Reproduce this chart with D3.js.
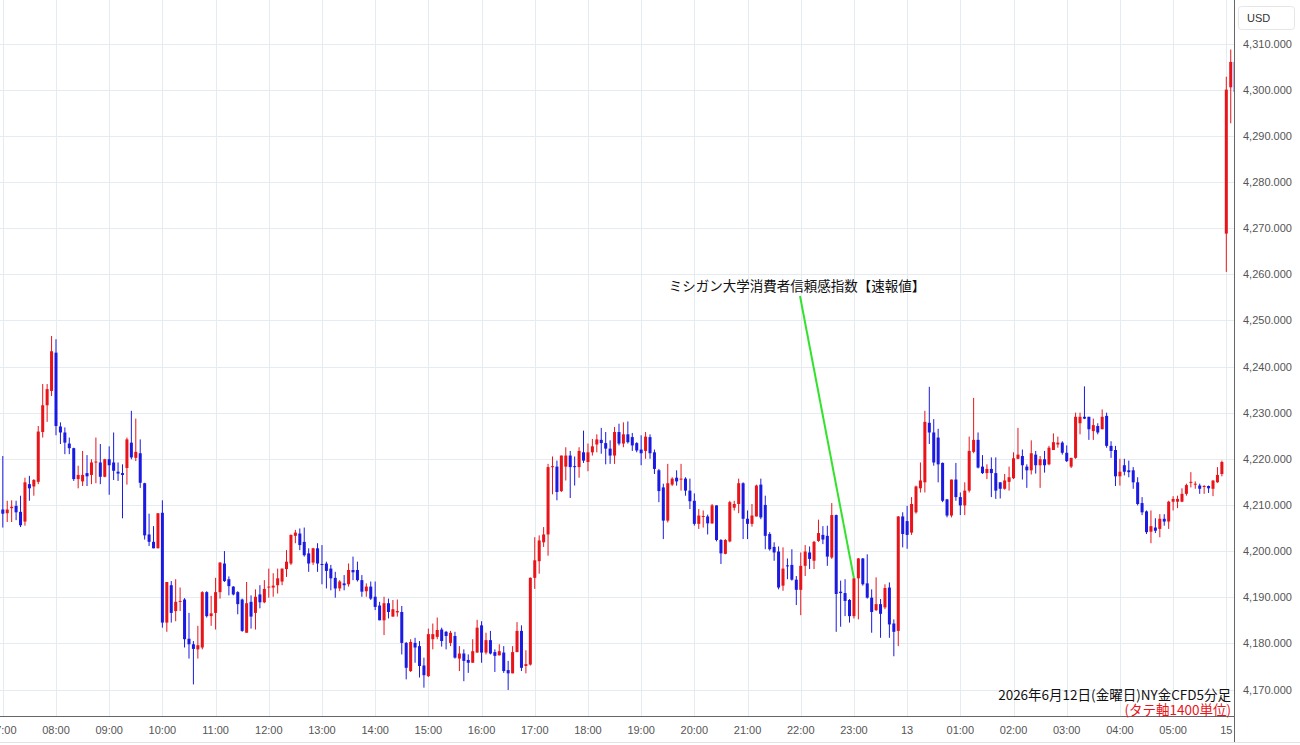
<!DOCTYPE html>
<html>
<head>
<meta charset="utf-8">
<script src="https://cdn.jsdelivr.net/npm/d3@7"></script>
<style>
  body { margin: 0; background: #fff; }
  svg { display: block; }
</style>
</head>
<body>
<svg id="chart"></svg>
<script>

  // ---------------------------//
  //            DATA            //
  // ---------------------------//

// NY gold CFD, 5-minute bars (12th 07:00 -> 13th 05:55, then 15th 07:00..07:10)
var opens = [
4209.0,4208.2,4209.3,4209.8,4208.5,4206.4,4214.5,4214.0,4215.0,4225.8,4231.6,4234.7,4243.0,4227.0,4225.7,4223.3,4222.3,4215.6,4215.1,4216.9,
4216.5,4219.2,4219.2,4216.1,4219.9,4219.2,4217.2,4216.9,4218.0,4223.5,4220.2,4221.2,4214.7,4203.6,4202.0,4200.6,4208.3,4184.5,4192.6,4187.0,
4189.0,4189.5,4181.0,4179.8,4178.7,4179.1,4191.1,4185.9,4186.6,4191.1,4197.3,4193.9,4192.3,4191.1,4189.5,4182.3,4189.0,4186.6,4190.6,4188.9,
4192.1,4192.1,4192.6,4193.4,4196.1,4197.3,4203.3,4203.8,4202.0,4199.5,4197.5,4200.6,4197.2,4197.3,4196.2,4194.2,4191.9,4193.0,4192.8,4195.9,
4195.9,4193.7,4191.3,4192.3,4190.1,4188.2,4185.0,4188.7,4185.8,4186.7,4186.8,4180.1,4174.0,4180.1,4179.4,4175.2,4172.9,4180.9,4181.4,4183.0,
4182.5,4180.1,4181.6,4176.7,4177.8,4176.4,4175.8,4178.0,4183.9,4178.0,4180.7,4178.1,4177.4,4178.0,4174.2,4173.5,4178.1,4182.7,4175.1,4175.4,
4194.2,4197.8,4201.9,4203.6,4218.2,4218.3,4213.0,4218.3,4220.7,4218.4,4218.2,4221.4,4219.3,4221.4,4223.1,4224.1,4223.4,4222.2,4220.7,4225.8,
4223.3,4225.3,4224.7,4223.4,4222.0,4221.7,4224.7,4221.4,4217.5,4213.8,4206.6,4214.4,4215.9,4215.6,4215.7,4213.1,4210.9,4205.9,4207.4,4207.5,
4206.0,4209.9,4202.4,4199.4,4202.1,4209.4,4210.2,4214.7,4207.0,4205.9,4207.5,4214.4,4210.0,4203.7,4200.9,4199.9,4192.5,4196.9,4197.0,4193.8,
4191.6,4196.8,4199.7,4197.9,4202.2,4203.5,4203.3,4198.6,4207.8,4191.2,4190.9,4189.4,4185.9,4194.1,4198.4,4193.0,4189.9,4187.2,4188.5,4187.8,
4192.1,4184.3,4182.7,4207.5,4206.5,4204.0,4208.4,4213.6,4214.9,4227.8,4225.7,4224.6,4219.1,4211.2,4207.7,4215.5,4211.7,4209.9,4213.1,4221.5,
4224.1,4218.3,4216.9,4217.8,4216.9,4214.9,4213.5,4215.0,4215.8,4220.0,4220.6,4218.3,4217.5,4220.9,4218.6,4219.9,4218.8,4221.9,4223.1,4223.5,
4221.3,4218.3,4220.2,4227.7,4229.1,4229.1,4226.0,4227.1,4226.4,4229.3,4222.8,4221.9,4216.2,4218.6,4217.5,4217.5,4214.9,4210.4,4208.6,4204.2,
4205.1,4204.8,4207.0,4206.4,4210.7,4210.7,4210.7,4212.4,4214.9,4214.5,4214.2,4214.0,4214.1,4213.5,4214.9,4216.7,4268.8,4300.5,4306.0
];
var highs = [
4220.6,4210.9,4211.0,4210.9,4212.0,4215.9,4216.3,4215.6,4227.1,4236.2,4236.2,4246.6,4245.9,4227.9,4226.8,4224.6,4222.4,4218.5,4221.7,4220.8,
4219.9,4224.6,4223.2,4220.0,4222.7,4225.7,4219.2,4218.8,4224.6,4230.4,4228.7,4224.2,4214.8,4208.1,4205.4,4208.2,4211.0,4193.3,4193.5,4193.9,
4192.1,4189.8,4186.6,4180.5,4183.8,4191.3,4191.3,4190.3,4194.2,4197.6,4200.0,4194.5,4192.4,4191.3,4189.7,4193.3,4190.4,4191.7,4192.6,4193.7,
4196.2,4195.2,4196.2,4196.2,4200.2,4203.6,4204.6,4204.9,4205.1,4200.6,4200.7,4201.7,4201.3,4197.7,4197.0,4195.5,4193.7,4194.8,4197.3,4198.8,
4197.7,4194.8,4193.0,4193.4,4193.4,4189.0,4190.1,4189.7,4189.4,4189.5,4188.1,4180.3,4180.9,4181.2,4180.5,4176.9,4183.2,4184.3,4185.6,4183.4,
4182.7,4182.7,4182.5,4179.4,4178.7,4177.6,4180.9,4185.1,4184.8,4182.3,4182.7,4178.7,4179.8,4179.4,4176.2,4179.4,4184.6,4183.9,4178.5,4194.3,
4203.0,4203.4,4205.2,4218.9,4220.5,4219.6,4220.7,4222.5,4221.7,4220.5,4222.5,4226.1,4223.3,4224.3,4225.3,4226.7,4225.8,4224.0,4226.9,4227.6,
4227.9,4228.1,4225.6,4223.6,4225.1,4225.8,4225.3,4222.0,4217.8,4214.6,4218.9,4216.0,4217.5,4218.9,4216.0,4215.7,4212.5,4209.1,4208.8,4207.9,
4210.2,4209.9,4202.6,4202.6,4210.9,4210.9,4215.7,4214.9,4208.8,4210.2,4214.4,4215.7,4212.0,4204.1,4201.9,4201.0,4200.8,4198.4,4200.4,4194.6,
4199.7,4201.3,4201.0,4202.2,4206.8,4205.4,4205.5,4210.4,4207.9,4193.6,4193.9,4189.6,4194.2,4198.5,4198.5,4199.3,4191.7,4194.3,4189.6,4192.8,
4193.2,4185.2,4207.6,4208.4,4209.8,4211.7,4214.2,4219.2,4230.4,4235.6,4228.6,4226.5,4219.2,4211.3,4215.5,4219.1,4212.7,4214.9,4224.8,4233.2,
4225.7,4220.8,4218.8,4220.3,4220.3,4214.9,4216.7,4218.3,4221.4,4226.7,4222.0,4218.8,4224.0,4221.7,4220.6,4221.7,4222.8,4225.5,4224.8,4223.8,
4222.9,4220.2,4230.0,4230.0,4235.7,4229.1,4228.7,4227.7,4230.7,4230.0,4223.8,4222.8,4220.0,4220.0,4219.6,4218.2,4216.0,4211.7,4208.8,4208.8,
4207.1,4208.0,4208.0,4210.9,4211.9,4212.0,4213.6,4214.6,4217.1,4215.1,4214.6,4214.3,4214.2,4215.3,4218.2,4219.6,4302.8,4308.7,4306.5
];
var lows = [
4205.1,4206.3,4206.3,4206.7,4205.2,4205.5,4210.9,4212.0,4214.5,4224.6,4228.0,4233.6,4225.1,4223.2,4221.0,4221.0,4215.2,4213.6,4214.1,4214.1,
4214.5,4214.7,4214.5,4216.0,4212.2,4215.4,4215.2,4207.1,4214.4,4219.9,4219.5,4213.7,4202.5,4201.1,4200.6,4200.6,4183.4,4182.5,4184.5,4184.8,
4187.0,4179.1,4176.7,4171.1,4176.7,4178.7,4185.6,4183.8,4183.0,4189.7,4193.3,4190.4,4190.4,4186.3,4182.5,4182.3,4183.2,4183.0,4187.6,4188.7,
4189.9,4190.1,4190.8,4192.6,4194.4,4197.0,4201.7,4200.2,4198.8,4195.5,4197.0,4195.5,4192.8,4191.9,4191.5,4189.9,4191.3,4191.5,4192.3,4193.7,
4193.4,4190.1,4190.1,4189.4,4187.2,4185.0,4181.8,4185.4,4185.8,4185.8,4177.6,4172.2,4173.8,4175.8,4172.6,4170.4,4172.7,4178.7,4180.9,4179.3,
4178.7,4179.4,4176.7,4174.0,4171.8,4173.6,4175.8,4178.0,4175.8,4177.6,4177.6,4173.8,4177.4,4173.6,4169.9,4173.5,4178.1,4174.0,4173.5,4175.2,
4191.8,4195.1,4200.9,4199.0,4212.3,4211.0,4212.8,4215.3,4211.5,4214.2,4215.9,4219.1,4217.3,4220.7,4221.4,4221.1,4218.8,4218.9,4218.9,4222.9,
4222.5,4223.3,4221.7,4221.4,4218.6,4220.0,4220.0,4216.7,4210.6,4202.6,4206.2,4214.1,4214.2,4213.1,4212.0,4209.1,4205.5,4204.8,4205.1,4203.6,
4205.9,4202.1,4197.2,4199.3,4201.9,4208.8,4208.2,4202.6,4202.6,4205.3,4207.5,4206.9,4200.4,4200.1,4197.9,4191.7,4191.4,4193.9,4193.6,4188.3,
4186.1,4194.6,4196.1,4196.1,4202.0,4201.5,4196.8,4198.3,4182.5,4183.6,4185.9,4184.5,4185.4,4185.2,4192.5,4189.7,4182.3,4187.0,4181.2,4187.4,
4181.2,4177.2,4179.4,4200.8,4200.5,4203.5,4208.1,4212.7,4212.7,4223.2,4218.5,4214.9,4210.6,4207.3,4207.3,4210.9,4207.8,4207.8,4212.7,4221.2,
4217.9,4216.7,4215.6,4211.7,4211.3,4211.4,4213.3,4213.1,4215.6,4219.9,4215.5,4213.7,4216.6,4216.8,4213.7,4217.0,4218.6,4221.9,4222.4,4220.9,
4219.3,4218.0,4220.0,4225.3,4228.6,4224.1,4224.1,4225.3,4226.4,4222.4,4220.2,4214.1,4214.2,4216.4,4216.0,4213.5,4209.9,4207.8,4203.7,4201.7,
4203.9,4203.0,4205.5,4204.8,4208.8,4209.3,4210.6,4212.0,4213.8,4213.5,4212.4,4212.4,4212.6,4211.9,4214.8,4216.2,4260.5,4292.7,4298.5
];
var closes = [
4208.1,4209.0,4209.6,4208.4,4205.6,4214.9,4213.6,4215.4,4225.9,4231.6,4235.1,4243.3,4227.1,4225.7,4223.5,4222.3,4215.6,4216.5,4216.5,4216.2,
4219.2,4219.4,4216.1,4219.9,4218.6,4217.4,4216.8,4216.5,4224.2,4220.3,4221.5,4214.8,4203.4,4202.0,4200.6,4208.2,4184.5,4193.3,4186.6,4189.0,
4189.2,4180.9,4179.8,4178.8,4179.6,4191.1,4185.9,4186.5,4191.1,4197.5,4193.5,4192.4,4190.6,4188.5,4182.7,4188.7,4185.8,4190.1,4188.9,4191.8,
4192.3,4192.5,4194.1,4196.2,4197.7,4203.5,4204.0,4201.3,4199.1,4197.3,4200.6,4197.3,4197.0,4195.7,4194.1,4191.9,4193.4,4192.6,4195.9,4195.4,
4193.7,4191.2,4192.3,4189.7,4187.9,4185.0,4188.7,4186.8,4187.4,4187.0,4180.1,4174.7,4180.3,4179.1,4175.1,4173.1,4182.0,4182.0,4182.9,4180.5,
4181.6,4182.3,4176.9,4177.8,4176.2,4175.8,4178.3,4183.4,4178.0,4180.7,4177.8,4177.3,4178.3,4174.0,4173.5,4178.1,4182.7,4174.7,4175.5,4194.2,
4198.0,4202.3,4203.6,4218.2,4218.4,4212.8,4220.7,4220.7,4218.2,4218.2,4221.7,4219.6,4221.4,4222.7,4224.2,4223.4,4222.2,4220.7,4225.8,4223.3,
4225.3,4223.6,4222.9,4221.8,4221.2,4224.8,4221.2,4217.8,4213.0,4206.6,4214.7,4215.7,4215.1,4215.7,4213.1,4210.8,4205.9,4207.7,4207.6,4206.0,
4209.9,4202.4,4199.5,4202.4,4210.6,4210.2,4214.7,4207.0,4205.9,4207.7,4214.2,4207.3,4203.3,4200.4,4199.7,4192.1,4196.2,4196.7,4193.8,4191.6,
4196.8,4199.9,4198.3,4202.0,4203.9,4202.5,4198.8,4207.8,4190.7,4190.9,4189.2,4185.9,4194.1,4198.4,4192.8,4189.9,4186.8,4188.5,4186.4,4192.0,
4184.1,4182.5,4207.5,4203.7,4203.5,4210.2,4214.0,4215.3,4228.0,4225.7,4219.2,4218.8,4210.9,4207.7,4215.5,4211.7,4209.9,4213.1,4221.7,4224.1,
4218.1,4216.9,4217.8,4216.9,4213.1,4213.5,4215.3,4216.0,4220.1,4220.9,4218.6,4217.5,4221.2,4218.6,4219.9,4218.6,4222.4,4223.6,4223.5,4221.3,
4219.5,4220.2,4229.1,4229.1,4228.7,4226.4,4227.3,4225.7,4229.1,4222.8,4221.7,4216.2,4217.2,4217.2,4217.1,4214.9,4210.2,4208.4,4204.1,4205.4,
4204.4,4207.0,4206.4,4210.7,4211.3,4211.3,4212.4,4214.3,4215.0,4214.6,4213.5,4214.1,4213.6,4215.3,4216.5,4219.3,4300.0,4306.0,4299.5
];

// trading sessions (day, first hour, number of 5-min bars)
var sessions = [
  { day: "12", startHour: 7, bars: 204 },
  { day: "13", startHour: 0, bars: 72 },
  { day: "15", startHour: 7, bars: 3 }
];

// hourly labels on the time axis (one every 12 bars)
var xTickLabels = ["07:00","08:00","09:00","10:00","11:00","12:00","13:00","14:00","15:00","16:00","17:00","18:00",
  "19:00","20:00","21:00","22:00","23:00","13","01:00","02:00","03:00","04:00","05:00","15"];

var yTicks = [4170,4180,4190,4200,4210,4220,4230,4240,4250,4260,4270,4280,4290,4300,4310];

var eventLabel = "ミシガン大学消費者信頼感指数【速報値】";
var eventTime = "12 23:00";
var titleText = "2026年6月12日(金曜日)NY金CFD5分足";
var noteText = "(タテ軸1400単位)";

  // ---------------------------//
  //         DIMENSIONS         //
  // ---------------------------//

var width = 1300, height = 745;
var plotRight = 1234, plotBottom = 716;
var step = 4.433, firstCenter = 2.8;

// category labels, one per bar
var times = [];
sessions.forEach(function(s) {
  for (var k = 0; k < s.bars; k++) {
    var m = s.startHour * 60 + k * 5;
    times.push(s.day + " " + String(Math.floor(m / 60)).padStart(2, "0") + ":" + String(m % 60).padStart(2, "0"));
  }
});

var bars = times.map(function(t, i) {
  return { t: t, o: opens[i], h: highs[i], l: lows[i], c: closes[i] };
});

  // ---------------------------//
  //       AXIS  AND SCALE      //
  // ---------------------------//

var x = d3.scaleBand()
    .domain(times)
    .range([firstCenter - step / 2, firstCenter - step / 2 + times.length * step])
    .paddingInner(0.32)
    .paddingOuter(0.16);

var cx = function(t) { return x(t) + x.bandwidth() / 2; };

var y = d3.scaleLinear()
    .domain([4170, 4310])
    .range([689.5, 43.5]);

var upColor = "#e8141a", downColor = "#1a1ae2";
var gridColor = "#e4ebf1";

  // ---------------------------//
  //          CONTAINER         //
  // ---------------------------//

var svg = d3.select("#chart")
    .attr("width", width)
    .attr("height", height)
    .style("font-family", "'Liberation Sans', Arial, sans-serif");

svg.append("rect").attr("width", width).attr("height", height).attr("fill", "#fff");

svg.append("clipPath").attr("id", "plot-clip")
  .append("rect").attr("x", 0).attr("y", 0).attr("width", plotRight).attr("height", plotBottom);

  // ---------------------------//
  //            GRID            //
  // ---------------------------//

var grid = svg.append("g").attr("clip-path", "url(#plot-clip)");

grid.selectAll(".hgrid")
    .data(yTicks)
    .enter().append("line")
    .attr("x1", 0).attr("x2", plotRight)
    .attr("y1", d => Math.round(y(d)) + 0.5).attr("y2", d => Math.round(y(d)) + 0.5)
    .attr("stroke", gridColor);

var tickTimes = xTickLabels.map((d, i) => times[i * 12]);

grid.selectAll(".vgrid")
    .data(tickTimes)
    .enter().append("line")
    .attr("x1", d => Math.round(cx(d)) + 0.5).attr("x2", d => Math.round(cx(d)) + 0.5)
    .attr("y1", 0).attr("y2", plotBottom)
    .attr("stroke", gridColor);

  // ---------------------------//
  //          CANDLES           //
  // ---------------------------//

var candles = svg.append("g")
    .attr("clip-path", "url(#plot-clip)")
    .selectAll("g")
    .data(bars)
    .enter().append("g")
    .attr("fill", d => d.c >= d.o ? upColor : downColor)
    .attr("stroke", d => d.c >= d.o ? upColor : downColor);

candles.append("line")
    .attr("x1", d => cx(d.t)).attr("x2", d => cx(d.t))
    .attr("y1", d => y(d.h)).attr("y2", d => y(d.l))
    .attr("stroke-width", 1);

candles.append("rect")
    .attr("stroke", "none")
    .attr("x", d => x(d.t))
    .attr("width", x.bandwidth())
    .attr("y", d => y(Math.max(d.o, d.c)))
    .attr("height", d => Math.max(1, Math.abs(y(d.o) - y(d.c))));

  // ---------------------------//
  //            AXES            //
  // ---------------------------//

var xAxis = svg.append("g")
    .attr("transform", "translate(0," + plotBottom + ")")
    .call(d3.axisBottom(x)
      .tickValues(tickTimes)
      .tickFormat((d, i) => xTickLabels[i])
      .tickSize(0)
      .tickPadding(10));
xAxis.select(".domain").remove();
xAxis.selectAll("text").attr("fill", "#555").style("font-size", "11px");

var yAxis = svg.append("g")
    .attr("transform", "translate(" + plotRight + ",0)")
    .call(d3.axisRight(y)
      .tickValues(yTicks)
      .tickFormat(d3.format(",.3f"))
      .tickSize(0)
      .tickPadding(9));
yAxis.select(".domain").remove();
yAxis.selectAll("text").attr("fill", "#555").style("font-size", "11px");

// frame lines
svg.append("line")
    .attr("x1", 0).attr("x2", plotRight)
    .attr("y1", plotBottom + 0.5).attr("y2", plotBottom + 0.5)
    .attr("stroke", "#666");
svg.append("line")
    .attr("x1", plotRight + 0.5).attr("x2", plotRight + 0.5)
    .attr("y1", 0).attr("y2", height - 3)
    .attr("stroke", "#666");
svg.append("line")
    .attr("x1", 0).attr("x2", width)
    .attr("y1", height - 2.5).attr("y2", height - 2.5)
    .attr("stroke", "#e2e2e2");

// currency box
svg.append("rect")
    .attr("x", 1238.5).attr("y", 6.5).attr("width", 56).attr("height", 23).attr("rx", 3)
    .attr("fill", "#fff").attr("stroke", "#e6e6e6");
svg.append("text")
    .attr("x", 1247).attr("y", 22)
    .attr("fill", "#333").style("font-size", "11px")
    .text("USD");

  // ---------------------------//
  //         ANNOTATION         //
  // ---------------------------//

var ev = bars[times.indexOf(eventTime)];

svg.append("line")
    .attr("x1", 800).attr("y1", 296)
    .attr("x2", cx(ev.t)).attr("y2", y(ev.c))
    .attr("stroke", "#33e22c").attr("stroke-width", 2);

svg.append("text")
    .attr("x", 797).attr("y", 291)
    .attr("text-anchor", "middle")
    .style("font-family", "'Noto Sans CJK JP', sans-serif")
    .style("font-size", "13.5px")
    .attr("fill", "#111")
    .text(eventLabel);

  // ---------------------------//
  //            TITLE           //
  // ---------------------------//

svg.append("text")
    .attr("x", 1231).attr("y", 700)
    .attr("text-anchor", "end")
    .style("font-family", "'Noto Sans CJK JP', sans-serif")
    .style("font-size", "13.5px")
    .attr("fill", "#111")
    .text(titleText);

svg.append("text")
    .attr("x", 1231).attr("y", 715)
    .attr("text-anchor", "end")
    .style("font-family", "'Noto Sans CJK JP', sans-serif")
    .style("font-size", "13.5px")
    .attr("fill", "#e8141a")
    .text(noteText);

</script>
</body>
</html>
